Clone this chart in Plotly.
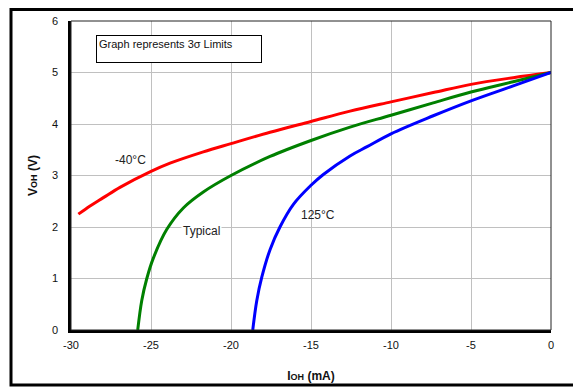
import plotly.graph_objects as go

# IOH (mA) vs VOH (V)
x_cold = [-29.54, -28.81, -27.98, -26.94, -25.0, -23.81, -21.73, -20.0, -17.56, -15.0,
          -12.56, -10.0, -7.36, -5.0, -2.36, 0.0]
v_cold = [2.25, 2.41, 2.57, 2.77, 3.08, 3.24, 3.46, 3.62, 3.84, 4.05,
          4.25, 4.43, 4.61, 4.77, 4.90, 5.0]

x_typ = [-25.83, -25.58, -25.27, -24.86, -24.02, -22.98, -21.73, -20.0, -17.56, -15.0,
         -12.56, -10.0, -7.36, -5.0, -2.36, 0.0]
v_typ = [0.0, 0.57, 0.99, 1.39, 1.95, 2.37, 2.68, 3.0, 3.37, 3.68,
         3.94, 4.17, 4.41, 4.62, 4.82, 5.0]

x_hot = [-18.64, -18.39, -18.08, -17.56, -16.94, -16.10, -15.0, -14.23, -12.56, -11.49,
         -10.0, -7.36, -5.0, -2.36, 0.0]
v_hot = [0.0, 0.57, 1.02, 1.56, 2.0, 2.44, 2.81, 3.02, 3.38, 3.56,
         3.81, 4.16, 4.45, 4.74, 5.0]

x_ticks = [-30, -25, -20, -15, -10, -5, 0]
x_ticktext = ['-30', '-25', '-20', '-15', '-10', '-5', '0']
y_ticks = [0, 1, 2, 3, 4, 5, 6]

FONT = "Liberation Sans, Arial, sans-serif"

fig = go.Figure()
for xs, vs, color in [(x_cold, v_cold, '#ff0000'),
                      (x_typ, v_typ, '#008000'),
                      (x_hot, v_hot, '#0000ff')]:
    fig.add_trace(go.Scatter(x=xs, y=vs, mode='lines',
                             line=dict(color=color, width=3, shape='spline', smoothing=1.0),
                             showlegend=False, hoverinfo='skip'))

# curve labels
labels = [(-26.31, 3.31, '-40°C', None),
          (-14.57, 2.24, '125°C', None),
          (-21.82, 1.92, 'Typical', 'white')]
for lx, ly, txt, bg in labels:
    fig.add_annotation(x=lx, y=ly, text=txt, showarrow=False,
                       font=dict(family=FONT, size=12, color='#222'),
                       bgcolor=bg if bg else 'rgba(0,0,0,0)')

# note box
fig.add_annotation(xref='paper', yref='paper', x=(96 - 71) / 480, y=(330 - 35) / 309,
                   xanchor='left', yanchor='top', text='Graph represents 3σ Limits',
                   showarrow=False, align='left', valign='top', width=160, height=22,
                   bgcolor='white', bordercolor='black', borderwidth=1, borderpad=2,
                   font=dict(family=FONT, size=11, color='#111'))

# thin top/right frame of plot area
fig.add_shape(type='rect', xref='paper', yref='paper', x0=0, y0=0, x1=1, y1=1,
              line=dict(color='#222', width=1), layer='above')
# outer frame of the picture (top edge kept just inside the figure)
fx0 = (11 - 71) / 480
fy1 = (330 - 9.5) / 309
fy0 = (330 - 385) / 309
fig.add_shape(type='path', xref='paper', yref='paper',
              path=f'M 1.2 {fy1} L {fx0} {fy1} L {fx0} {fy0} L 1.2 {fy0}',
              line=dict(color='black', width=3))

# page body has an 8px margin, so the figure is 8px smaller
fig.update_layout(
    width=573, height=380,
    margin=dict(l=63, r=30, t=13, b=58),
    paper_bgcolor='white', plot_bgcolor='white',
    font=dict(family=FONT, size=11, color='#111'),
    xaxis=dict(range=[-30, 0], tickvals=x_ticks, ticktext=x_ticktext, automargin=False,
               showgrid=True, gridcolor='#c0c0c0', gridwidth=1,
               zeroline=False, showline=True, linecolor='black', linewidth=2.5, ticks='',
               ticklabelstandoff=3, tickfont=dict(size=11, color='#111'),
               title=dict(text='<b>I<span style="font-size:9px">OH</span> (mA)</b>',
                          font=dict(size=12, color='#111'), standoff=22)),
    yaxis=dict(range=[0, 6], tickvals=y_ticks, automargin=False,
               showgrid=True, gridcolor='#c0c0c0', gridwidth=1,
               zeroline=False, showline=True, linecolor='black', linewidth=2.5, ticks='',
               ticklabelstandoff=8, tickfont=dict(size=11, color='#111'),
               title=dict(text='<b>V<span style="font-size:9px">OH</span> (V)</b>',
                          font=dict(size=12, color='#111'), standoff=12)),
)

fig.write_html("out.html")
